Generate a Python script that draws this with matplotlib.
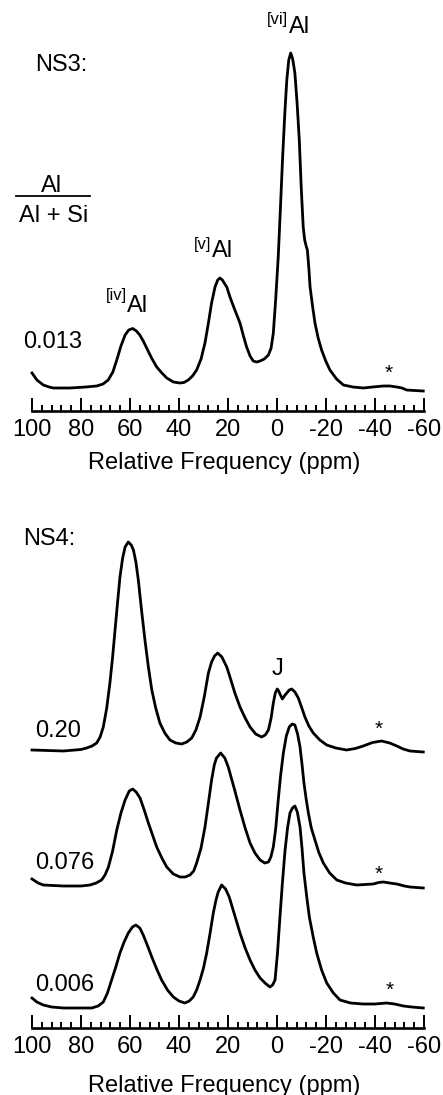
import matplotlib.pyplot as plt
from matplotlib.lines import Line2D

plt.rcParams['font.family'] = ['Liberation Sans', 'DejaVu Sans']
plt.rcParams['axes.unicode_minus'] = False

# 27Al MAS NMR spectra (intensity in arbitrary units above baseline)
ns3_ppm = [100, 98, 95.4, 93, 91.3, 84.5, 78, 73.6, 71, 68.9, 67, 65.4, 63.7, 62, 60.5,
           58.9, 57.4, 56, 54.6, 53.2, 51.2, 49.1, 47, 45, 42.3, 39.6, 38, 36.2, 34.5,
           32.8, 31, 29.4, 28, 26.7, 25.3, 24.2, 23.3, 22.3, 21.3, 20.5, 19.2, 17.2, 15.1,
           13.7, 12.4, 11, 9.7, 8.3, 6.9, 5.2, 3.5, 2.4, 1.5, 0.5, -0.5, -1.4, -2.3, -3.2,
           -4, -4.8, -5.6, -6.4, -7.3, -8.2, -9.1, -9.9, -10.7, -11.3, -12, -12.4, -13,
           -13.5, -14.5, -15.5, -16.8, -18.2, -19.9, -21.6, -24.3, -27.1, -31, -35.2, -39,
           -43.4, -46, -48.9, -51, -52.9, -56, -59.7]
ns3_int = [15, 8, 3, 1, 0, 0, 1, 2, 4, 8, 16, 28, 42, 53, 58,
           59.5, 57, 53, 47, 40, 30, 21, 15, 10, 6, 5, 5.5, 8, 12,
           18, 29, 45, 65, 85, 101, 108, 110, 108, 104, 101, 91, 78, 65,
           52, 41, 32, 27, 26, 27, 29, 33, 40, 55, 90, 131, 180, 231, 275,
           308, 328, 335, 329, 315, 285, 248, 200, 161, 148, 141, 138, 120,
           101, 82, 65, 50, 38, 27, 18, 9, 3, 1, 0, 1,
           2, 2, 1, 0, -2, -2.5, -3]

ns4_020_ppm = [100, 87.2, 80, 77.7, 75.5, 73.6, 72.2, 70.9, 69.5, 68.2, 67.1, 66.1, 65.1,
               64.1, 63, 62, 60.7, 59.5, 58.6, 57.6, 56.6, 55.3, 53.9, 52.5, 51.1, 49.5,
               47.8, 45.8, 43.7, 41.3, 38.9, 36.8, 34.8, 33.1, 31.4, 29.7, 28, 26.7, 25.5,
               24.2, 22.5, 20.5, 19.2, 17.2, 15.1, 13, 11, 8.7, 6.3, 4.8, 3.5, 2.4, 1.5,
               0.7, -0.1, -0.7, -1.2, -2.2, -3, -4, -5, -6, -7.3, -8.7, -10, -11.4, -13,
               -14.8, -17.5, -20.3, -24, -28.4, -32, -35.2, -39, -42.7, -46, -48.9, -51.5,
               -54.3, -59.7]
ns4_020_int = [0, -1, 0.5, 2, 4, 7, 13, 23, 42, 67, 93, 120, 147,
               173, 192, 203, 208, 205, 200, 188, 170, 140, 110, 83, 60, 42,
               27, 17, 10, 7, 6, 8, 12, 20, 33, 53, 77, 88, 94,
               97, 93, 83, 73, 57, 43, 32, 23, 16, 13, 15, 20, 32, 47,
               57, 61, 59, 56, 51, 54, 57, 60, 61, 58, 52, 43, 33, 24,
               17, 10, 5, 2, 0, 1.5, 4, 7.5, 9, 7, 4, 1,
               -1, -2]

ns4_076_ppm = [100, 97.5, 95.4, 87.2, 80, 76.3, 73.8, 71.6, 70.2, 68.8, 67.1, 65.4, 63.7,
               62, 60.3, 58.9, 57.5, 55.9, 54.2, 52.5, 50.8, 49.1, 47, 45, 42.3, 39.6, 37.5,
               35.5, 34, 32.8, 31, 29.4, 28, 26.7, 25.6, 24.7, 23, 21.3, 19.9, 17.5, 15.1,
               13, 11, 9, 6.9, 5, 3.5, 2.5, 1.5, 0.5, -0.5, -1.5, -2.6, -3.8, -5, -6.2,
               -7.3, -8.4, -9.4, -10.2, -11, -11.9, -12.8, -14, -15.5, -17, -18.9, -21.5,
               -24.4, -28, -32.5, -36, -39.3, -41.5, -43.4, -46, -48.9, -52, -54.3, -57,
               -59.7]
ns4_076_int = [7, 3, 1, 0, 0, 1, 3, 6, 11, 19, 35, 56, 73,
               86, 95, 97, 94, 88, 76, 63, 51, 39, 28, 19, 12, 9, 9,
               11, 15, 23, 38, 59, 83, 106, 121, 128, 133, 128, 119, 98, 76,
               58, 43, 33, 26, 23, 24, 29, 39, 58, 86, 111, 133, 150, 159, 162,
               161, 152, 139, 122, 103, 87, 73, 58, 46, 34, 23, 13,
               6, 3, 1, 1.5, 2, 3.5, 4, 3, 2, 0, -1, -1.5,
               -2]

ns4_006_ppm = [100, 98, 95.4, 92, 87.2, 80, 75.6, 73, 70.9, 69.2, 67.5, 65.8, 64.1, 62.4,
               60.7, 59, 57.6, 56, 54.6, 52.8, 51.1, 49.1, 47.1, 44.7, 42.3, 40, 37.6, 35.8,
               34.2, 32.8, 31.4, 30, 28.7, 27.3, 26, 24.9, 24, 22.6, 21, 19.5, 17.3, 15.1,
               13, 11, 9, 6.9, 4.9, 2.9, 1.8, 0.8, -0.2, -1.2, -2.2, -3.3, -4.3, -5.3,
               -6.3, -7.3, -8.3, -9.4, -10.2, -11, -12.1, -13.2, -14.7, -16.2, -18.2, -20.3,
               -23, -25.7, -30, -35.2, -40, -44.7, -48, -51.6, -55, -59.7]
ns4_006_int = [10, 6, 3, 1, 0, 0, 0, 2, 6, 15, 28, 41, 55, 66,
               75, 81, 83, 80, 73, 62, 51, 39, 28, 18, 11, 7, 5, 7,
               11, 18, 28, 40, 55, 75, 95, 108, 116, 123, 119, 111, 93, 75,
               60, 48, 38, 30, 25, 21, 23, 28, 55, 91, 125, 158, 180, 195,
               200, 202, 196, 181, 160, 135, 112, 91, 72, 55, 38, 25,
               15, 8, 5, 4, 4, 5, 4, 2, 1, 0]

ns4_ratios = ['0.20', '0.076', '0.006']

W, H = 443, 1095
fig = plt.figure(figsize=(W / 100, H / 100), dpi=100)


def add_ax(left, top, right, bottom):
    return fig.add_axes([left / W, 1 - bottom / H, (right - left) / W, (bottom - top) / H])


def ftext(x, y, s, **kw):
    kw.setdefault('fontsize', 17)
    fig.text(x / W, 1 - y / H, s, **kw)


def style_axis(ax, height):
    ax.set_xlim(100, -60)
    ax.set_ylim(0, height)
    for side in ['top', 'left', 'right']:
        ax.spines[side].set_visible(False)
    ax.spines['bottom'].set_linewidth(1.9)
    ax.set_yticks([])
    ax.set_xticks(range(100, -61, -20))
    ax.set_xticks(range(100, -61, -4), minor=True)
    ax.tick_params(axis='x', which='major', direction='in', length=9.5, width=1.4,
                   labelsize=17, pad=6)
    ax.tick_params(axis='x', which='minor', direction='in', length=4.3, width=1.4)
    ax.patch.set_visible(False)


line_kw = dict(color='black', lw=2.0, clip_on=False, solid_joinstyle='round')

# NS3 panel
ax1 = add_ax(32, 11, 424, 411)
style_axis(ax1, 400)
ax1.plot(ns3_ppm, [v + 23 for v in ns3_int], **line_kw)
ax1.text(-45.4, 38, '*', ha='center', va='center', fontsize=15)

# NS4 panel, stacked spectra
ax2 = add_ax(32, 520, 424, 1028)
style_axis(ax2, 508)
ax2.plot(ns4_020_ppm, [v + 278 for v in ns4_020_int], **line_kw)
ax2.plot(ns4_076_ppm, [v + 142 for v in ns4_076_int], **line_kw)
ax2.plot(ns4_006_ppm, [v + 20 for v in ns4_006_int], **line_kw)
ax2.text(-41.6, 299, '*', ha='center', va='center', fontsize=15)
ax2.text(-41.6, 154, '*', ha='center', va='center', fontsize=15)
ax2.text(-45.8, 38, '*', ha='center', va='center', fontsize=15)
ax2.text(-0.3, 353, 'J', ha='center', va='baseline', fontsize=17)

# labels
ftext(35, 71, 'NS3:', va='baseline')
ftext(289, 33, 'Al', va='baseline')
ftext(288, 12, '[vi]', ha='right', va='top', fontsize=12)
ftext(212, 257, 'Al', va='baseline')
ftext(211, 237, '[v]', ha='right', va='top', fontsize=12)
ftext(127, 312, 'Al', va='baseline')
ftext(127, 288, '[iv]', ha='right', va='top', fontsize=12)

ftext(52, 192, 'Al', ha='center', va='baseline')
fig.add_artist(Line2D([16 / W, 90 / W], [1 - 196 / H, 1 - 196 / H], color='black', lw=1.3))
ftext(54, 222, 'Al + Si', ha='center', va='baseline')
ftext(23, 348, '0.013', va='baseline')

ftext(23, 545, 'NS4:', va='baseline')
for label, x, y in zip(ns4_ratios, [35, 35, 35], [737, 869, 991]):
    ftext(x, y, label, va='baseline')

ftext(224, 469, 'Relative Frequency (ppm)', ha='center', va='baseline')
ftext(224, 1092, 'Relative Frequency (ppm)', ha='center', va='baseline')

fig.savefig('out.png', dpi=100)
